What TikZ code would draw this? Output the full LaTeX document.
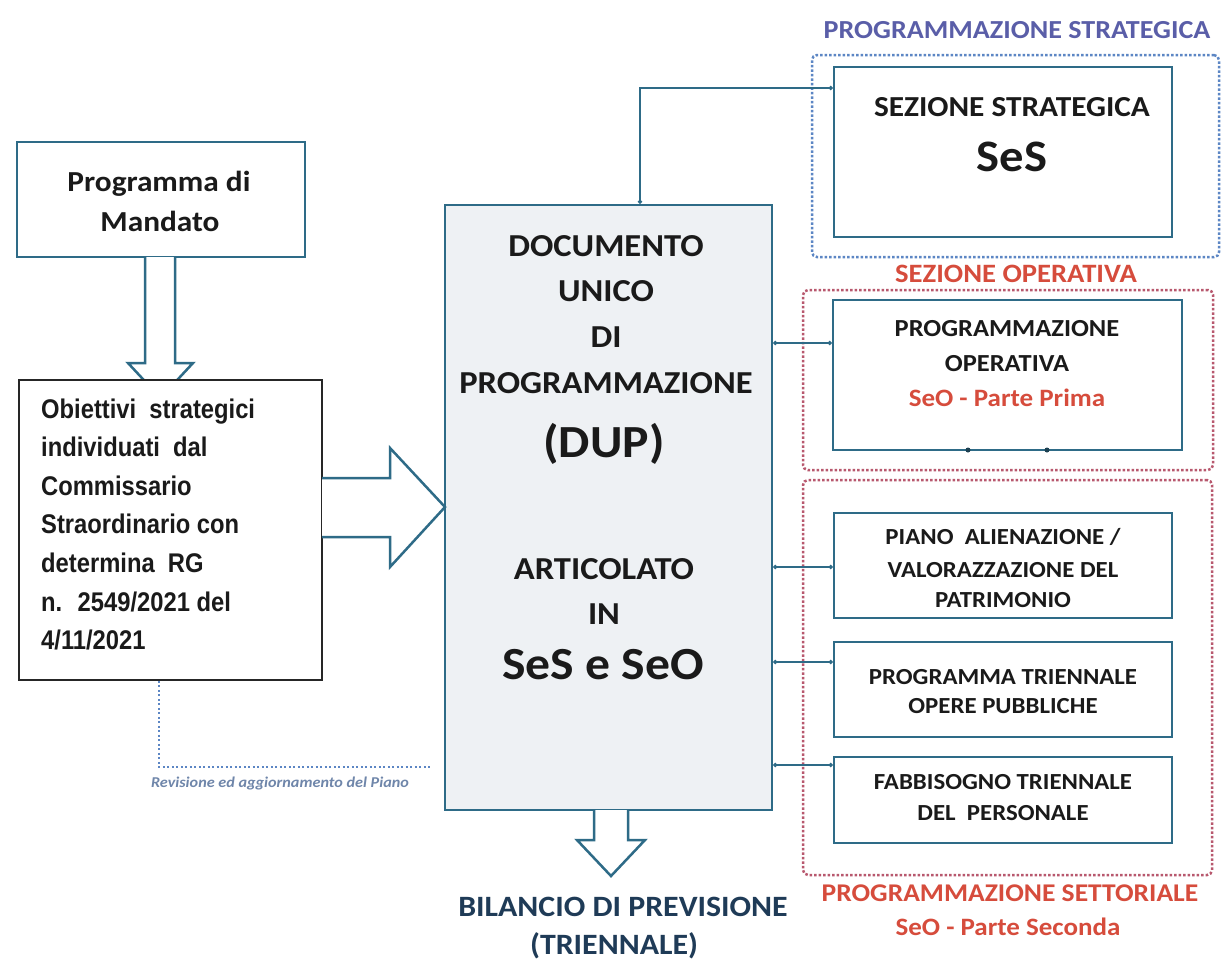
\documentclass[tikz,border=0pt]{standalone}
\usepackage{fontspec}
\setmainfont{Carlito}[FakeStretch=1.08]
\newfontfamily\arialfont{Liberation Sans}[FakeStretch=0.88]
\usetikzlibrary{arrows.meta}
\definecolor{tealbox}{HTML}{2E6B87}
\definecolor{dupfill}{HTML}{EEF1F4}
\definecolor{redtxt}{HTML}{D64C3C}
\definecolor{purtxt}{HTML}{5A5EA8}
\definecolor{dotblue}{HTML}{5C86C4}
\definecolor{dotred}{HTML}{B8586E}
\definecolor{navytxt}{HTML}{1F3B57}
\definecolor{blacktxt}{HTML}{1A1A1A}
\definecolor{revcol}{HTML}{6F86AA}
\begin{document}
\begin{tikzpicture}[x=1pt,y=-1pt,
  tbox/.style={draw=tealbox, line width=2.5pt, fill=white, inner sep=0pt},
  frameblue/.style={draw=dotblue, line width=2.5pt, dotted, rounded corners=5pt, inner sep=0pt},
  framered/.style={draw=dotred, line width=2.5pt, dotted, rounded corners=5pt, inner sep=0pt},
  conn/.style={draw=tealbox, line width=1.8pt, {Circle[length=4pt]}-{Circle[length=4pt]}},
  hollow/.style={draw=tealbox, line width=2.5pt, fill=white, line join=miter},
  rev/.style={draw=dotblue, line width=1.8pt, dash pattern=on 2pt off 2.5pt},
  lbl/.style={inner sep=0pt, anchor=base, text=blacktxt},
  fdup/.style={lbl, font=\bfseries\fontsize{32}{38}\selectfont},
  fbig/.style={lbl, font=\bfseries\fontsize{46}{52}\selectfont},
  fsmall/.style={lbl, font=\bfseries\fontsize{23}{27}\selectfont},
  fobj/.style={inner sep=0pt, anchor=base west, text=blacktxt, font=\arialfont\bfseries\fontsize{27}{32}\selectfont}
]
\useasboundingbox (0,0) rectangle (1221,959);
\fill[white] (0,0) rectangle (1221,959);

% dotted frames
\node[frameblue, minimum width=407pt, minimum height=202pt] (fstr) at (1015.5,156) {};
\node[framered, minimum width=410pt, minimum height=180pt] (fop) at (1008,380) {};
\node[framered, minimum width=409pt, minimum height=395pt] (fset) at (1007.5,677.5) {};

% right boxes
\node[tbox, minimum width=338pt, minimum height=170pt] (ses) at (1003,152) {};
\node[tbox, minimum width=349pt, minimum height=150pt] (po) at (1007.5,375) {};
\node[tbox, minimum width=338pt, minimum height=105pt] (pa) at (1003,565.5) {};
\node[tbox, minimum width=338pt, minimum height=95pt] (pt) at (1003,689.5) {};
\node[tbox, minimum width=338pt, minimum height=86pt] (fb) at (1003,800) {};

% small dots on the bottom of the operative box
\fill[tealbox!60!black] (968,450) circle (2.5pt);
\fill[tealbox!60!black] (1047,450) circle (2.5pt);

% left boxes and arrows
\node[tbox, minimum width=288pt, minimum height=115pt] (mand) at (161,199.5) {};
\draw[hollow] (145,257) -- (145,363) -- (128,363) -- (160.5,398) -- (193,363) -- (175,363) -- (175,257);
\node[draw=black!85, line width=1.6pt, fill=white, minimum width=303pt, minimum height=300pt, inner sep=0pt] (obj) at (170.5,530) {};

% DUP box
\node[draw=tealbox, line width=2.5pt, fill=dupfill, minimum width=327pt, minimum height=605pt, inner sep=0pt] (dup) at (608.5,507.5) {};

\draw[hollow] (322,478) -- (390,478) -- (390,448) -- (445,507) -- (390,567) -- (390,537) -- (322,537);
\draw[hollow] (594,810) -- (594,840) -- (577,840) -- (611,876) -- (645,840) -- (628,840) -- (628,810);

% connectors
\coordinate (ytop) at (640,88);
\draw[conn] (ytop |- dup.north) -- (ytop) -- (ytop -| ses.west);
\coordinate (y1) at (0,343);
\coordinate (y2) at (0,567);
\coordinate (y3) at (0,662);
\coordinate (y4) at (0,765);
\draw[conn] (dup.east |- y1) -- (po.west |- y1);
\draw[conn] (dup.east |- y2) -- (pa.west |- y2);
\draw[conn] (dup.east |- y3) -- (pt.west |- y3);
\draw[conn] (dup.east |- y4) -- (fb.west |- y4);

% revision line
\coordinate (rv) at (159,767);
\coordinate (rvend) at (430,767);
\draw[rev] (rv |- obj.south) -- (rv) -- (rvend);
\node[inner sep=0pt, text=revcol, font=\bfseries\itshape\fontsize{15}{17}\selectfont] (revl) at (280,783) {Revisione ed aggiornamento del Piano};

% titles
\node[lbl, text=purtxt, font=\bfseries\fontsize{26}{30}\selectfont] (tstr) at (1017,38) {PROGRAMMAZIONE STRATEGICA};
\node[lbl, text=redtxt, font=\bfseries\fontsize{26.5}{30}\selectfont] (top) at (1016,282.5) {SEZIONE OPERATIVA};
\node[lbl, text=redtxt, font=\bfseries\fontsize{25.5}{30}\selectfont] (tset) at (1010,901) {PROGRAMMAZIONE SETTORIALE};
\node[lbl, text=redtxt, font=\bfseries\fontsize{25}{30}\selectfont] (tset2) at (1008,935) {SeO - Parte Seconda};

% SES texts
\node[lbl, font=\bfseries\fontsize{29}{34}\selectfont] (ses1) at (1012,116) {SEZIONE STRATEGICA};
\node[lbl, font=\bfseries\fontsize{45}{50}\selectfont] (ses2) at (1012,171.5) {SeS};

% operative texts
\node[lbl, font=\bfseries\fontsize{24.5}{29}\selectfont] (po1) at (1007,336) {PROGRAMMAZIONE};
\node[lbl, font=\bfseries\fontsize{24.5}{29}\selectfont] (po2) at (1007,371) {OPERATIVA};
\node[lbl, text=redtxt, font=\bfseries\fontsize{25}{29}\selectfont] (po3) at (1007,406) {SeO - Parte Prima};

% sector boxes texts
\node[fsmall] (pa1) at (1003,544.5) {PIANO~ ALIENAZIONE /};
\node[fsmall] (pa2) at (1003,577.5) {VALORAZZAZIONE DEL};
\node[fsmall] (pa3) at (1003,607.5) {PATRIMONIO};
\node[fsmall] (pt1) at (1003,684.5) {PROGRAMMA TRIENNALE};
\node[fsmall] (pt2) at (1003,713.5) {OPERE PUBBLICHE};
\node[fsmall] (fb1) at (1003,789.5) {FABBISOGNO TRIENNALE};
\node[fsmall] (fb2) at (1003,820.5) {DEL~ PERSONALE};

% DUP texts
\node[fdup] (d1) at (606,256) {DOCUMENTO};
\node[fdup] (d2) at (606,301) {UNICO};
\node[fdup] (d3) at (606,347) {DI};
\node[fdup] (d4) at (606,393) {PROGRAMMAZIONE};
\node[fbig] (d5) at (604,457) {(DUP)};
\node[fdup] (d6) at (604,579) {ARTICOLATO};
\node[fdup] (d7) at (604,624) {IN};
\node[fbig] (d8) at (603,679) {SeS e SeO};

% bottom
\node[lbl, text=navytxt, font=\bfseries\fontsize{29.5}{34}\selectfont] (bil1) at (623,916.5) {BILANCIO DI PREVISIONE};
\node[lbl, text=navytxt, font=\bfseries\fontsize{29.5}{34}\selectfont] (bil2) at (614,954) {(TRIENNALE)};

% mandato texts
\node[lbl, font=\bfseries\fontsize{29}{34}\selectfont] (m1) at (159,191) {Programma di};
\node[lbl, font=\bfseries\fontsize{29}{34}\selectfont] (m2) at (160,231) {Mandato};

% obiettivi texts
\node[fobj] (o1) at (41,418) {Obiettivi~ strategici};
\node[fobj] (o2) at (41,456.6) {individuati~ dal};
\node[fobj] (o3) at (41,495.2) {Commissario};
\node[fobj] (o4) at (41,533.8) {Straordinario con};
\node[fobj] (o5) at (41,572.4) {determina~ RG};
\node[fobj] (o6) at (41,611) {n.~ 2549/2021 del};
\node[fobj] (o7) at (41,649.6) {4/11/2021};
\end{tikzpicture}
\end{document}
